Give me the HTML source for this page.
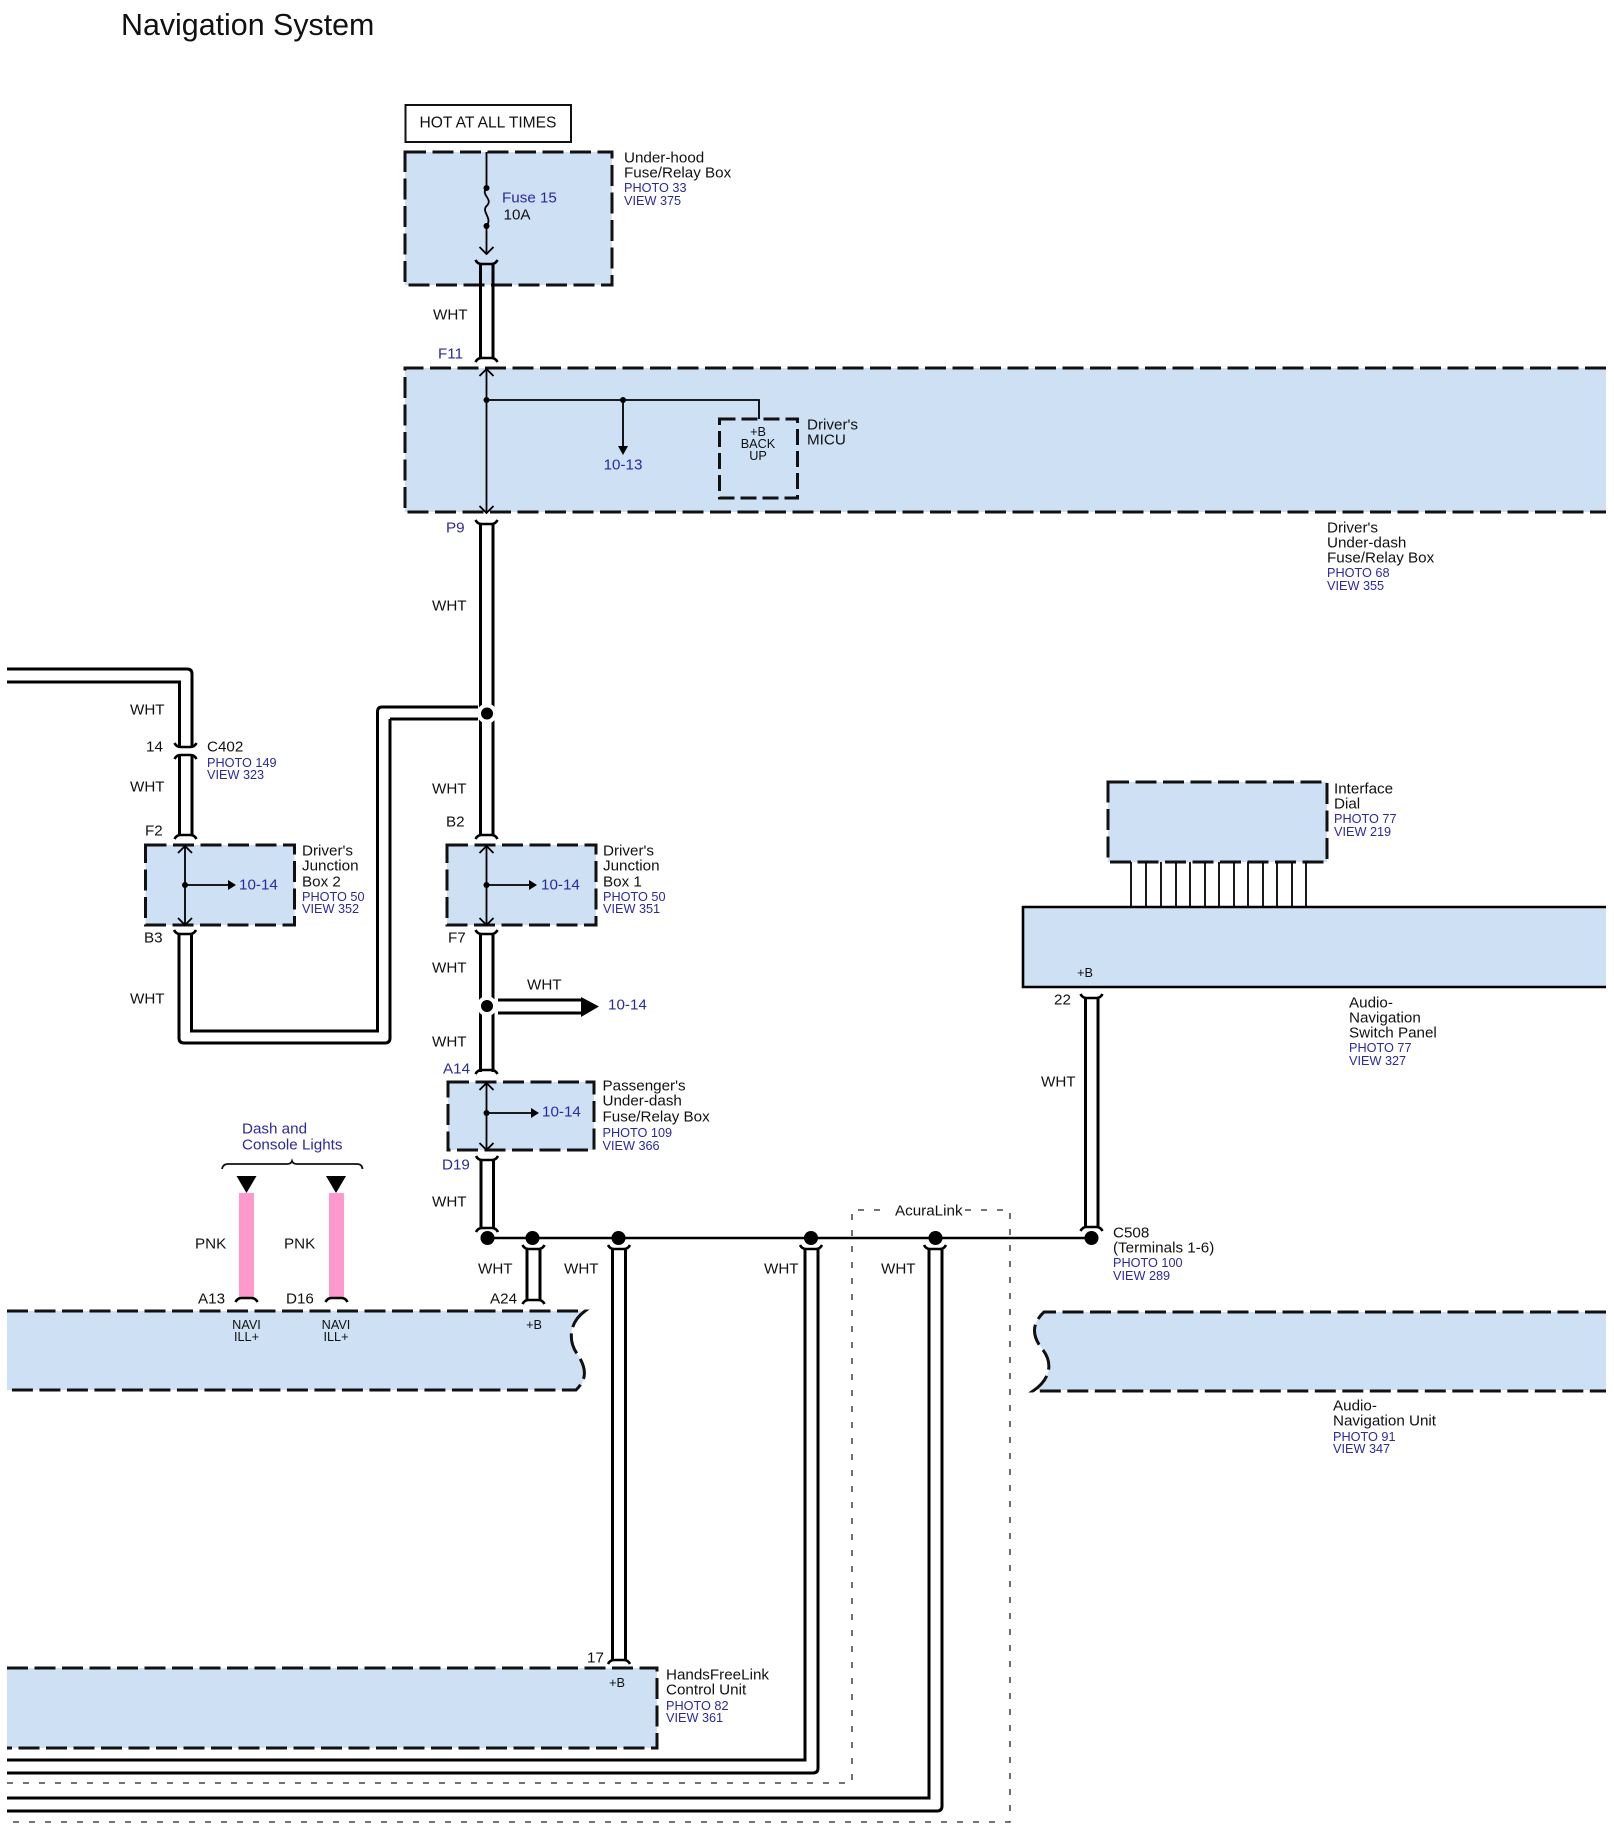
<!DOCTYPE html>
<html><head><meta charset="utf-8"><title>Navigation System</title>
<style>
html,body{margin:0;padding:0;background:#fff}
svg{display:block}
text{font-family:"Liberation Sans",Arial,sans-serif;font-size:15.2px;fill:#111;dominant-baseline:central}
.b{fill:#2a2a9e}
.s{font-size:12.7px;fill:#2a2a9e}
.c{text-anchor:middle}
.t{font-size:12.7px;fill:#111}
.w{fill:none;stroke:#000;stroke-width:3}
.l{fill:none;stroke:#000;stroke-width:1.8}
.d{fill:#cde0f4;stroke:#111;stroke-width:3;stroke-dasharray:21 6.5}
.e{fill:none;stroke:#111;stroke-width:3;stroke-dasharray:21 6.5}
.f{fill:#cde0f4;stroke:none}
.o{fill:none;stroke:#222;stroke-width:1.3;stroke-dasharray:6 10}
.h{fill:#000;stroke:#fff;stroke-width:4}
</style></head><body>
<svg xmlns="http://www.w3.org/2000/svg" width="1614" height="1838" viewBox="0 0 1614 1838">
<rect width="1614" height="1838" fill="#fff"/>
<defs>
<path id="cu" d="M-11 -4 Q-9 0 -5 0 H5 Q9 0 11 -4" fill="none" stroke="#000" stroke-width="2.6"/>
<path id="cd" d="M-11 4 Q-9 0 -5 0 H5 Q9 0 11 4" fill="none" stroke="#000" stroke-width="2.6"/>
<path id="au" d="M-7 7 L0 0 L7 7" fill="none" stroke="#000" stroke-width="1.8"/>
<path id="ad" d="M-7 -7 L0 0 L7 -7" fill="none" stroke="#000" stroke-width="1.8"/>
</defs>

<text x="121" y="25" style="font-size:30.4px">Navigation System</text>

<!-- dashed acuralink -->
<path class="o" d="M7 1783 H852 V1210 H880"/>
<path class="o" d="M965 1210 H1010 V1822 H7"/>

<!-- HOT -->
<rect x="405.5" y="105" width="165.500" height="37" fill="#fff" stroke="#111" stroke-width="2"/>
<text x="488" y="123" class="c" style="font-size:15.6px">HOT AT ALL TIMES</text>

<!-- Under-hood box -->
<rect x="405" y="152" width="207" height="133" class="d"/>
<path class="l" d="M486.500 152 V188 C480 195 494 199 486.500 206 C481 212 493 218 486.500 226 V254"/>
<circle cx="486.500" cy="188" r="3"/><circle cx="486.500" cy="226" r="3"/>
<use href="#ad" x="486.500" y="254"/>
<text x="502" y="198" class="b">Fuse 15</text>
<text x="503.500" y="215">10A</text>
<text x="624" y="158">Under-hood</text>
<text x="624" y="173">Fuse/Relay Box</text>
<text x="624" y="188" class="s">PHOTO 33</text>
<text x="624" y="201" class="s">VIEW 375</text>

<!-- Main fuse box -->
<path class="f" d="M405 368 H1606 V512 H405 Z"/>
<path class="e" d="M1606 368 H405 V512 H1606"/>
<path class="l" d="M486.500 368 V512"/>
<use href="#au" x="486.500" y="369"/><use href="#ad" x="486.500" y="513"/>
<path class="l" d="M486.500 400 H759 V419"/>
<circle cx="486.500" cy="400" r="3"/><circle cx="623" cy="400" r="3"/>
<path class="l" d="M623 400 V447"/>
<path d="M618 446 H628 L623 455 Z"/>
<text x="623" y="465" class="b c">10-13</text>
<rect x="719.500" y="419" width="78" height="79" fill="none" stroke="#111" stroke-width="3" stroke-dasharray="16 6"/>
<text x="758" y="432" class="t c">+B</text><text x="758" y="444" class="t c">BACK</text><text x="758" y="456" class="t c">UP</text>
<text x="807" y="425">Driver's</text><text x="807" y="440">MICU</text>
<text x="1327" y="528">Driver's</text><text x="1327" y="543">Under-dash</text><text x="1327" y="558">Fuse/Relay Box</text>
<text x="1327" y="573" class="s">PHOTO 68</text><text x="1327" y="586" class="s">VIEW 355</text>

<!-- Center wires -->
<path class="w" d="M480.500 263 V358 M493 263 V358"/>
<use href="#cu" x="486.500" y="264"/><use href="#cd" x="486.500" y="358"/>
<text x="433" y="315">WHT</text>
<text x="438" y="354" class="b">F11</text>
<text x="446" y="528" class="b">P9</text>
<path class="w" d="M480.500 523 V835 M493 523 V835"/>
<use href="#cu" x="486.500" y="524"/><use href="#cd" x="486.500" y="835"/>
<text x="432" y="606">WHT</text>
<text x="432" y="789">WHT</text>
<text x="446" y="822">B2</text>

<!-- Left wire from C402 -->
<path class="w" d="M7 669 H187 Q192 669 192 674 V747 M7 682 H179.500 V747"/>
<use href="#cu" x="185.500" y="747"/>
<text x="130" y="710">WHT</text>
<text x="146" y="747">14</text>
<text x="207" y="747">C402</text>
<text x="207" y="763" class="s">PHOTO 149</text>
<text x="207" y="775" class="s">VIEW 323</text>
<path class="w" d="M179.500 755 V835 M192 755 V835"/>
<use href="#cd" x="185.500" y="755"/><use href="#cd" x="185.500" y="835"/>
<text x="130" y="787">WHT</text>
<text x="145" y="831">F2</text>

<!-- JB2 -->
<rect x="145.500" y="845" width="149" height="80" class="d"/>
<path class="l" d="M185 845 V925 M185 885 H229"/>
<circle cx="185" cy="885" r="3"/>
<use href="#au" x="185" y="846"/><use href="#ad" x="185" y="925"/>
<path d="M228 880 L236 885 L228 890 Z"/>
<text x="239" y="885" class="b">10-14</text>
<text x="302" y="851">Driver's</text><text x="302" y="866">Junction</text><text x="302" y="882">Box 2</text>
<text x="302" y="897" class="s">PHOTO 50</text><text x="302" y="909" class="s">VIEW 352</text>
<text x="144" y="938">B3</text>
<text x="130" y="999">WHT</text>
<path class="w" d="M179 933 V1038 Q179 1043 184 1043 H385 Q390 1043 390 1038 V719 M191.500 933 V1031 H377.500 V712 Q377.500 707 382 707 H478 M390 719 H478"/>
<use href="#cu" x="185" y="934"/>

<!-- junction -->
<circle cx="487" cy="713.500" r="8" class="h"/>

<!-- JB1 -->
<rect x="447" y="845" width="149" height="80" class="d"/>
<path class="l" d="M486.500 845 V925 M486.500 885 H530"/>
<circle cx="486.500" cy="885" r="3"/>
<use href="#au" x="486.500" y="846"/><use href="#ad" x="486.500" y="925"/>
<path d="M529 880 L537 885 L529 890 Z"/>
<text x="541" y="885" class="b">10-14</text>
<text x="603" y="851">Driver's</text><text x="603" y="866">Junction</text><text x="603" y="882">Box 1</text>
<text x="603" y="897" class="s">PHOTO 50</text><text x="603" y="909" class="s">VIEW 351</text>

<text x="448" y="938">F7</text>
<path class="w" d="M480.500 933 V1072 M493 933 V1072"/>
<use href="#cu" x="486.500" y="934"/><use href="#cd" x="486.500" y="1070"/>
<text x="432" y="968">WHT</text>
<text x="432" y="1042">WHT</text>
<path class="w" d="M498 1000 H581 M498 1013 H581"/>
<path d="M581 997 L599 1006.500 L581 1017 Z"/>
<circle cx="487" cy="1006" r="8" class="h"/>
<text x="527" y="985">WHT</text>
<text x="608" y="1005" class="b">10-14</text>
<text x="443" y="1069" class="b">A14</text>

<!-- Passenger box -->
<rect x="448" y="1082" width="146" height="68" class="d"/>
<path class="l" d="M486.500 1082 V1150 M486.500 1113 H532"/>
<circle cx="486.500" cy="1113" r="3"/>
<use href="#au" x="486.500" y="1083"/><use href="#ad" x="486.500" y="1150"/>
<path d="M531 1108 L539 1113 L531 1118 Z"/>
<text x="542" y="1112" class="b">10-14</text>
<text x="602.500" y="1086">Passenger's</text><text x="602.500" y="1101">Under-dash</text><text x="602.500" y="1117">Fuse/Relay Box</text>
<text x="602.500" y="1133" class="s">PHOTO 109</text><text x="602.500" y="1146" class="s">VIEW 366</text>

<text x="442" y="1165" class="b">D19</text>
<path class="w" d="M481 1159 V1228 M493.500 1159 V1228"/>
<use href="#cu" x="487" y="1160"/><use href="#cd" x="487" y="1228"/>
<text x="432" y="1202">WHT</text>

<!-- bus line -->
<path d="M487 1238 H1091" stroke="#000" stroke-width="2.4" fill="none"/>

<!-- A24 -->
<path class="w" d="M527 1248 V1300 M540 1248 V1300"/>
<use href="#cu" x="533.500" y="1249"/><use href="#cd" x="533.500" y="1300"/>
<text x="478" y="1269">WHT</text>
<text x="490" y="1299">A24</text>

<!-- Long wires -->
<path class="w" d="M612.500 1248 V1660 M625.500 1248 V1660"/>
<use href="#cu" x="619" y="1249"/><use href="#cd" x="619" y="1660"/>
<text x="564" y="1269">WHT</text>
<path class="w" d="M805 1248 V1760 H7 M818 1248 V1768 Q818 1773 813 1773 H7"/>
<use href="#cu" x="811" y="1249"/>
<text x="764" y="1269">WHT</text>
<path class="w" d="M929 1248 V1798 H7 M942 1248 V1806 Q942 1811 937 1811 H7"/>
<use href="#cu" x="935" y="1249"/>
<text x="881" y="1269">WHT</text>

<circle cx="487.500" cy="1238" r="7"/><circle cx="532.500" cy="1238" r="7"/><circle cx="618.500" cy="1238" r="7"/><circle cx="811" cy="1238" r="7"/><circle cx="935.500" cy="1238" r="7"/><circle cx="1091.500" cy="1238" r="7"/>

<text x="895" y="1211">AcuraLink</text>

<!-- C508 -->
<text x="1113" y="1233">C508</text><text x="1113" y="1248">(Terminals 1-6)</text>
<text x="1113" y="1263" class="s">PHOTO 100</text><text x="1113" y="1276" class="s">VIEW 289</text>

<!-- Interface dial -->
<rect x="1108" y="782" width="219" height="80" class="d"/>
<path d="M1131 862 V907 M1146 862 V907 M1161 862 V907 M1176 862 V907 M1190 862 V907 M1205 862 V907 M1219 862 V907 M1234 862 V907 M1248 862 V907 M1263 862 V907 M1277 862 V907 M1292 862 V907 M1306 862 V907" stroke="#000" stroke-width="1.8" fill="none"/>
<text x="1334" y="789">Interface</text><text x="1334" y="804">Dial</text>
<text x="1334" y="819" class="s">PHOTO 77</text><text x="1334" y="832" class="s">VIEW 219</text>

<!-- Switch panel -->
<path class="f" d="M1023 907 H1606 V987 H1023 Z"/>
<path d="M1606 907 H1023 V987 H1606" fill="none" stroke="#000" stroke-width="2.6"/>
<text x="1085" y="973" class="t c">+B</text>
<text x="1054" y="1000">22</text>
<path class="w" d="M1085.500 997 V1227 M1098 997 V1227"/>
<use href="#cu" x="1091.500" y="998"/><use href="#cd" x="1091.500" y="1227"/>
<text x="1041" y="1082">WHT</text>
<text x="1349" y="1003">Audio-</text><text x="1349" y="1018">Navigation</text><text x="1349" y="1033">Switch Panel</text>
<text x="1349" y="1048" class="s">PHOTO 77</text><text x="1349" y="1061" class="s">VIEW 327</text>

<!-- Audio nav left -->
<path class="f" d="M7 1311 H585 C566 1325 570 1345 578 1355 C586 1368 588 1378 578 1390 H7 Z"/>
<path class="e" d="M7 1311 H585 C566 1325 570 1345 578 1355 C586 1368 588 1378 576 1390 H7"/>
<!-- Audio nav right -->
<path class="f" d="M1044 1312 H1606 V1390 H1033 C1052 1378 1052 1362 1043 1350 C1033 1338 1030 1325 1044 1312 Z"/>
<path class="e" d="M1606 1312 H1044 C1030 1325 1033 1338 1043 1350 C1052 1362 1052 1378 1033 1391 H1606"/>
<text x="1333" y="1406">Audio-</text><text x="1333" y="1421">Navigation Unit</text>
<text x="1333" y="1437" class="s">PHOTO 91</text><text x="1333" y="1449" class="s">VIEW 347</text>

<!-- Pink -->
<rect x="239" y="1193" width="15" height="104" fill="#ff99cc"/>
<rect x="329" y="1193" width="15" height="104" fill="#ff99cc"/>
<use href="#cd" x="246.500" y="1298"/><use href="#cd" x="336.500" y="1298"/>
<path d="M236.500 1176 H256.500 L246.500 1193 Z"/><path d="M326 1176 H346 L336 1193 Z"/>
<path d="M222 1169 Q223 1164 228 1164 H287 Q291 1164 292 1161 Q293 1164 297 1164 H357 Q362 1164 362.500 1169" fill="none" stroke="#111" stroke-width="1.8"/>
<text x="242" y="1129" class="b">Dash and</text><text x="242" y="1145" class="b">Console Lights</text>
<text x="195" y="1244">PNK</text><text x="284" y="1244">PNK</text>
<text x="198" y="1299">A13</text><text x="286" y="1299">D16</text>
<text x="246.500" y="1325" class="t c">NAVI</text><text x="246.500" y="1337" class="t c">ILL+</text>
<text x="336" y="1325" class="t c">NAVI</text><text x="336" y="1337" class="t c">ILL+</text>
<text x="534" y="1325" class="t c">+B</text>

<!-- HandsFreeLink -->
<path class="f" d="M7 1668 H657 V1748 H7 Z"/>
<path class="e" d="M7 1668 H657 V1748 H7"/>
<text x="587" y="1658">17</text>
<text x="617" y="1683" class="t c">+B</text>
<text x="666" y="1675">HandsFreeLink</text><text x="666" y="1690">Control Unit</text>
<text x="666" y="1706" class="s">PHOTO 82</text><text x="666" y="1718" class="s">VIEW 361</text>
</svg>
</body></html>
